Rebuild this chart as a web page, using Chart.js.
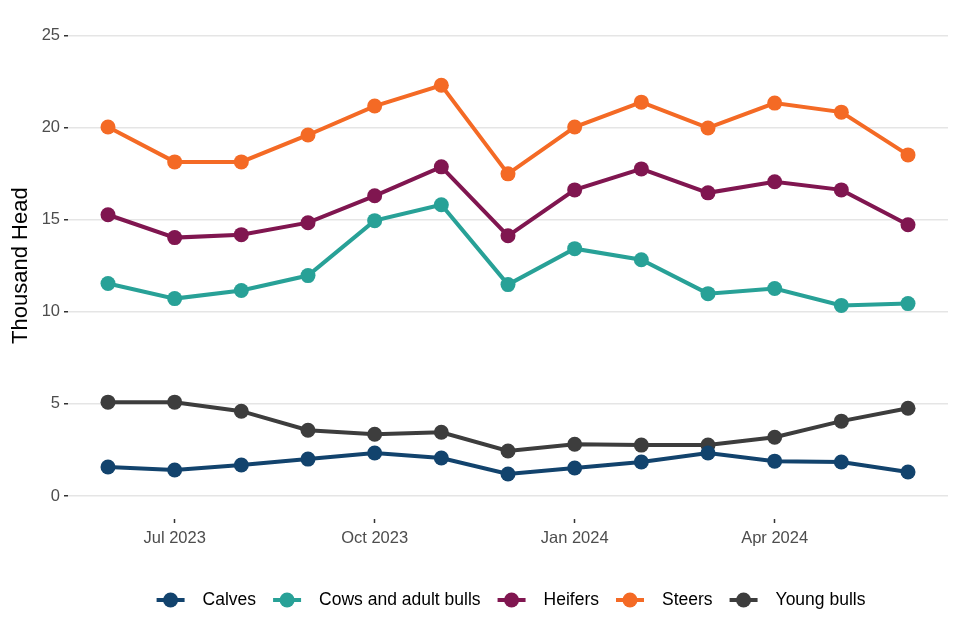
<!DOCTYPE html>
<html>
<head>
<meta charset="utf-8">
<script src="https://cdn.jsdelivr.net/npm/chart.js@4"></script>
<style>
html,body{margin:0;padding:0;background:#fff;}
#wrap{width:960px;height:640px;}
</style>
</head>
<body>
<div id="wrap"><canvas id="c" width="960" height="640"></canvas></div>
<script>
// months Jun 2023 .. Jun 2024 (index 0..12)
const months=["Jun 2023","Jul 2023","Aug 2023","Sep 2023","Oct 2023","Nov 2023","Dec 2023","Jan 2024","Feb 2024","Mar 2024","Apr 2024","May 2024","Jun 2024"];
const tickMonths=[1,4,7,10];
const yTicks=[0,5,10,15,20,25];

const calves=[1.57,1.41,1.68,2.00,2.33,2.06,1.19,1.52,1.84,2.33,1.89,1.84,1.30];
const cows=[11.53,10.71,11.15,11.96,14.94,15.80,11.47,13.42,12.82,10.98,11.26,10.34,10.44];
const heifers=[15.26,14.02,14.18,14.83,16.29,17.86,14.12,16.61,17.75,16.45,17.05,16.61,14.72];
const steers=[20.02,18.13,18.13,19.59,21.16,22.29,17.48,20.02,21.37,19.97,21.32,20.83,18.51];
const youngBulls=[5.09,5.09,4.60,3.57,3.35,3.46,2.44,2.81,2.76,2.76,3.19,4.06,4.76];

const seriesNames=["Calves","Cows and adult bulls","Heifers","Steers","Young bulls"];
const seriesData=[calves,cows,heifers,steers,youngBulls];
const colors=["#12436D","#28A197","#801650","#F46A25","#3D3D3D"];

const FONT="'Liberation Sans', Arial, sans-serif";
const toXY=(arr)=>arr.map((v,i)=>({x:i,y:v}));

const datasets=seriesNames.map((name,i)=>({
  label:name, data:toXY(seriesData[i]),
  borderColor:colors[i], backgroundColor:colors[i],
  borderWidth:4, pointRadius:7.5, pointHoverRadius:7.5, pointBorderWidth:0,
  tension:0
}));

// custom legend at bottom: line + dot, like ggplot key
const bottomLegend={
  id:"bottomLegend",
  afterDraw(chart){
    const ctx=chart.ctx;
    ctx.save();
    ctx.font="17.5px "+FONT;
    ctx.textBaseline="middle";
    const y=600, keyW=28, gapKey=18, gapItem=17;
    const widths=seriesNames.map(n=>ctx.measureText(n).width);
    let total=0;
    widths.forEach((w,i)=>{total+=keyW+gapKey+w+(i<widths.length-1?gapItem:0);});
    let x=511-total/2;
    seriesNames.forEach((n,i)=>{
      ctx.strokeStyle=colors[i]; ctx.fillStyle=colors[i]; ctx.lineWidth=4;
      ctx.beginPath(); ctx.moveTo(x,y); ctx.lineTo(x+keyW,y); ctx.stroke();
      ctx.beginPath(); ctx.arc(x+keyW/2,y,7.5,0,Math.PI*2); ctx.fill();
      ctx.fillStyle="#000";
      ctx.fillText(n,x+keyW+gapKey,y);
      x+=keyW+gapKey+widths[i]+gapItem;
    });
    ctx.restore();
  }
};

new Chart(document.getElementById("c"),{
  type:"line",
  data:{datasets},
  options:{
    responsive:false, animation:false,
    layout:{padding:{left:0,right:12,top:11,bottom:81}},
    plugins:{legend:{display:false},tooltip:{enabled:false}},
    scales:{
      x:{
        type:"linear", min:-0.6, max:12.6,
        afterBuildTicks:(s)=>{s.ticks=tickMonths.map(v=>({value:v}));},
        afterFit:(s)=>{s.height=40;},
        grid:{drawOnChartArea:false, drawTicks:true, tickLength:4, tickColor:"#333", tickWidth:1.5},
        border:{display:false},
        ticks:{color:"#4d4d4d", font:{size:16.5, family:FONT, lineHeight:1}, padding:7,
          callback:(v)=>months[v]||""}
      },
      y:{
        min:-1.25, max:26.25,
        afterBuildTicks:(s)=>{s.ticks=yTicks.map(v=>({value:v}));},
        afterFit:(s)=>{s.width=68;},
        grid:{color:"#e5e5e5", lineWidth:1.5, drawTicks:true, tickLength:4, tickColor:"#333", tickWidth:1.5},
        border:{display:false},
        ticks:{color:"#4d4d4d", font:{size:16.5, family:FONT, lineHeight:1}, padding:4},
        title:{display:true, text:"Thousand Head", color:"#000", padding:{top:8,bottom:0},
          font:{size:22, family:FONT}}
      }
    }
  },
  plugins:[bottomLegend]
});
</script>
</body>
</html>
